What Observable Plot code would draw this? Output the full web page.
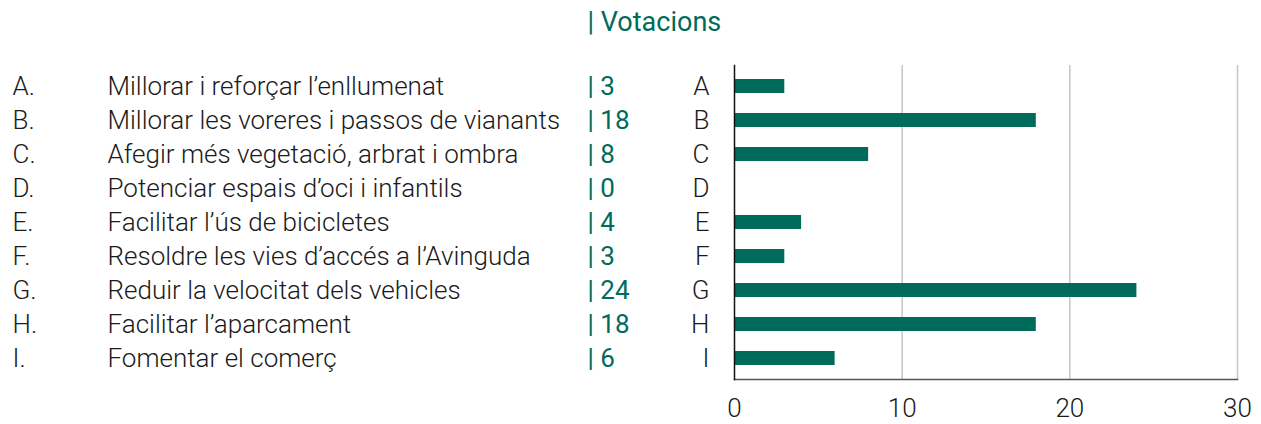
<!DOCTYPE html>
<html><head><meta charset="utf-8">
<script src="https://cdn.jsdelivr.net/npm/d3@7"></script>
<script src="https://cdn.jsdelivr.net/npm/@observablehq/plot@0.6"></script>
<style>body{margin:0;background:#fff;}</style>
</head><body><div id="chart"></div>
<script>
const letters = ["A","B","C","D","E","F","G","H","I"];
const labels = [
  "Millorar i reforçar l’enllumenat",
  "Millorar les voreres i passos de vianants",
  "Afegir més vegetació, arbrat i ombra",
  "Potenciar espais d’oci i infantils",
  "Facilitar l’ús de bicicletes",
  "Resoldre les vies d’accés a l’Avinguda",
  "Reduir la velocitat dels vehicles",
  "Facilitar l’aparcament",
  "Fomentar el comerç"
];
const votes = [3, 18, 8, 0, 4, 3, 24, 18, 6];
const xTicks = [0, 10, 20, 30];
const title = "| Votacions";

const data = letters.map((l, i) => ({letter: l, label: labels[i], votes: votes[i]}));
const green = "#006b5b";

const chart = Plot.plot({
  width: 1261, height: 424,
  marginLeft: 734, marginRight: 24, marginTop: 65, marginBottom: 45,
  style: {fontFamily: "Roboto", fontSize: "26px", fontWeight: 300, color: "#1a1a1a", background: "white", overflow: "visible"},
  x: {domain: [0, 30]},
  y: {domain: letters, paddingInner: 0.6, paddingOuter: 0.32},
  marks: [
    Plot.gridX(xTicks.filter(d => d > 0), {stroke: "#c6c6c6", strokeOpacity: 1, strokeWidth: 1.5}),
    Plot.barX(data, {x: "votes", y: "letter", fill: green}),
    Plot.frame({anchor: "bottom", stroke: "#555", strokeWidth: 1.5}),
    Plot.frame({anchor: "left", stroke: "#111", strokeWidth: 1.5}),
    Plot.axisX({ticks: xTicks, tickSize: 0, tickPadding: 19, label: null, fontSize: 26, letterSpacing: -0.5}),
    Plot.axisY({tickSize: 0, tickPadding: 25, label: null, fontSize: 26}),
    Plot.text(data, {y: "letter", text: d => d.letter + ".", frameAnchor: "left", dx: -722, textAnchor: "start", fontSize: 26}),
    Plot.text(data, {y: "letter", text: "label", frameAnchor: "left", dx: -627, textAnchor: "start", fontSize: 26, letterSpacing: -0.4}),
    Plot.text(data, {y: "letter", text: d => "| " + d.votes, frameAnchor: "left", dx: -147, textAnchor: "start", fill: green, fontWeight: 400, fontSize: 26, letterSpacing: -0.3}),
    Plot.text([title], {frameAnchor: "top-left", dx: -147, dy: -43, lineAnchor: "middle", textAnchor: "start", fill: green, fontWeight: 400, fontSize: 27, letterSpacing: -1})
  ]
});
document.getElementById("chart").appendChild(chart);
</script>
</body></html>
